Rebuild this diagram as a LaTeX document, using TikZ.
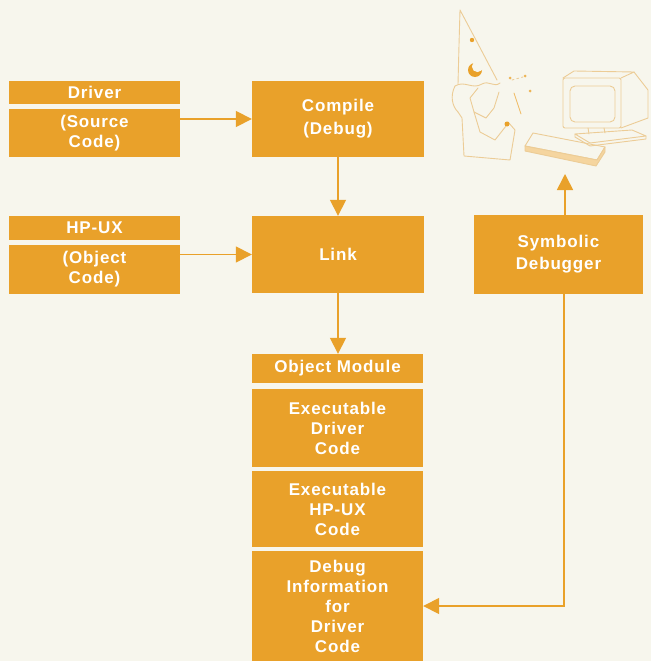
\documentclass[tikz,border=0pt]{standalone}
\usepackage{fontspec}
\newfontfamily\boxfont[LetterSpace=5]{Liberation Sans}
\usetikzlibrary{arrows.meta,calc}
\definecolor{paper}{RGB}{247,246,237}
\definecolor{hporange}{RGB}{233,161,42}
\definecolor{sketch}{RGB}{236,204,150}
\begin{document}
\begin{tikzpicture}[x=1pt,y=-1pt,
  box/.style={fill=hporange, draw=none, text=white, inner sep=0pt, align=center,
    font=\boxfont\bfseries\fontsize{17}{20}\selectfont, minimum width=171pt},
  conn/.style={draw=hporange, line width=1.6pt, -{Triangle[length=16pt,width=16pt]}},
  ink/.style={draw=sketch, line width=0.9pt, line join=round, line cap=round},
]
\fill[paper] (0,0) rectangle (651,661);
\useasboundingbox (0,0) rectangle (651,661);

% --- source inputs ---
\node[box, minimum height=23pt] (drv) at (94.5,92.5) {Driver};
\node[box, minimum height=48pt] (src) at (94.5,133) {(Source\\Code)};
\node[box, minimum height=24pt] (hpux) at (94.5,228) {HP-UX};
\node[box, minimum height=49pt] (obj) at (94.5,269.5) {(Object\\Code)};

% --- build steps ---
\node[box, minimum width=172pt, minimum height=76pt] (cmp) at (338,119) {Compile\\[3pt](Debug)};
\node[box, minimum width=172pt, minimum height=77pt] (lnk) at (338,254.5) {Link};

% --- object module ---
\node[box, minimum height=29pt] (om) at (337.5,368.5) {Object Module};
\node[box, minimum height=78pt] (exd) at (337.5,428) {Executable\\Driver\\Code};
\node[box, minimum height=76pt] (exh) at (337.5,509) {Executable\\HP-UX\\Code};
\node[box, minimum height=110pt] (dbg) at (337.5,606) {Debug\\Information\\for\\Driver\\Code};

% --- debugger ---
\node[box, minimum width=169pt, minimum height=79pt] (sym) at (558.5,254.5) {Symbolic\\[2pt]Debugger};

% --- connectors ---
\coordinate (desk) at (565,174);
\draw[conn] (cmp.west -| src.east) -- (cmp.west);
\draw[conn] (lnk.west -| obj.east) -- (lnk.west);
\draw[conn] (cmp.south) -- (lnk.north);
\draw[conn] (lnk.south) -- (lnk.south |- om.north);
\draw[conn] (sym.north -| desk) -- (desk);
\draw[conn] ([xshift=5.5pt]sym.south) |- (dbg.east);

% --- wizard ---
\draw[ink] (458,84) -- (459,45) -- (460,10) -- (477,42) -- (497,80);
\draw[ink] (455,86) .. controls (465,80) and (472,90) .. (482,84)
                    .. controls (489,80) and (494,88) .. (500,83);
\fill[hporange] (472,40) circle (2.2);
\fill[hporange] (475,70) circle (7);
\fill[paper] (477.5,66.5) circle (5.6);
\draw[ink] (455,86) .. controls (450,96) and (452,106) .. (458,112);
\draw[ink] (458,112) -- (462,118) -- (464,156) -- (510,160) -- (515,130) -- (508,122);
\draw[ink] (478,88) -- (470,98) -- (474,112) -- (486,118) -- (494,108) -- (499,92);
\draw[ink] (474,112) -- (480,132) -- (495,140) -- (506,126);
\fill[hporange] (507,124) circle (2.5);
\draw[ink, draw=hporange!70] (514,93) -- (521,114);
\fill[hporange!80] (510,78) circle (1.5) (525,76) circle (1.5) (530,91) circle (1.5);
\draw[ink, dash pattern=on 2pt off 3pt] (512,80) -- (523,77);

% --- computer ---
\draw[ink, rounded corners=2pt] (563,78) rectangle (621,128);
\draw[ink, rounded corners=5pt] (570,86) rectangle (615,122);
\draw[ink] (563,78) -- (574,71) -- (634,72) -- (621,78);
\draw[ink] (634,72) -- (648,90) -- (648,118) -- (621,128);
\draw[ink] (588,128) -- (589,134) (604,128) -- (605,133);
\draw[ink] (575,134) -- (632,130) -- (646,136) -- (590,143) -- cycle;
\draw[ink] (575,134) -- (575,137) -- (590,146) -- (646,139) -- (646,136);
% keyboard
\draw[ink] (533,133) -- (605,147) -- (597,160) -- (525,146) -- cycle;
\filldraw[ink, fill=hporange!45] (525,146) -- (525,151) -- (596,166) -- (605,152) -- (605,147) -- (597,160) -- cycle;
\end{tikzpicture}
\end{document}
